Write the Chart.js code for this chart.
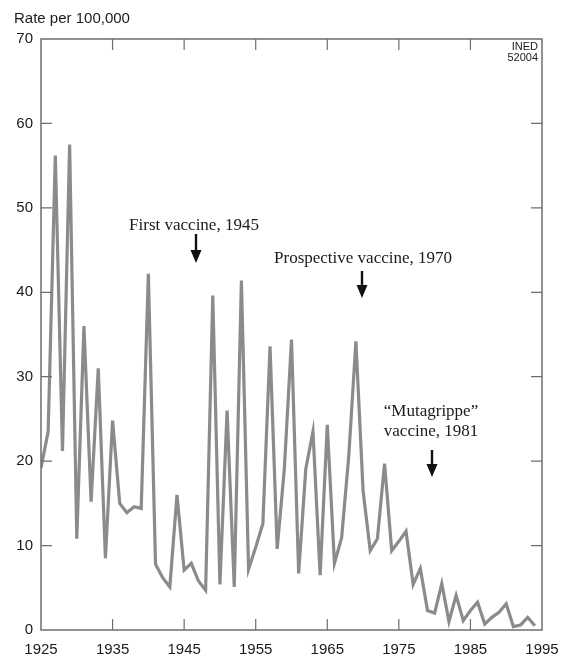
<!DOCTYPE html>
<html>
<head>
<meta charset="utf-8">
<script src="https://cdn.jsdelivr.net/npm/chart.js@4.4.1/dist/chart.umd.min.js"></script>
<style>
  html, body { margin: 0; padding: 0; background: #fff; }
  #c { display: block; }
</style>
</head>
<body>
<canvas id="c" width="564" height="658"></canvas>
<script>
// ---- data ----
const years = [
  1925, 1926, 1927, 1928, 1929, 1930, 1931, 1932, 1933, 1934,
  1935, 1936, 1937, 1938, 1939, 1940, 1941, 1942, 1943, 1944,
  1945, 1946, 1947, 1948, 1949, 1950, 1951, 1952, 1953, 1954,
  1955, 1956, 1957, 1958, 1959, 1960, 1961, 1962, 1963, 1964,
  1965, 1966, 1967, 1968, 1969, 1970, 1971, 1972, 1973, 1974,
  1975, 1976, 1977, 1978, 1979, 1980, 1981, 1982, 1983, 1984,
  1985, 1986, 1987, 1988, 1989, 1990, 1991, 1992, 1993, 1994
];
const rates = [
  19.2, 23.5, 56.2, 21.2, 57.5, 10.8, 36.0, 15.2, 31.0, 8.5,
  24.8, 15.0, 13.9, 14.6, 14.4, 42.2, 7.8, 6.2, 5.1, 16.0,
  7.1, 7.9, 5.8, 4.7, 39.6, 5.4, 26.0, 5.1, 41.4, 7.2,
  9.8, 12.6, 33.6, 9.6, 19.1, 34.4, 6.7, 19.1, 23.5, 6.5,
  24.3, 7.9, 10.9, 20.6, 34.2, 16.5, 9.4, 10.8, 19.7, 9.4,
  10.5, 11.7, 5.4, 7.3, 2.3, 2.0, 5.5, 1.0, 4.1, 1.1,
  2.3, 3.3, 0.7, 1.5, 2.1, 3.1, 0.4, 0.6, 1.5, 0.5
];
const xTickLabels = ['1925', '1935', '1945', '1955', '1965', '1975', '1985', '1995'];
const yTickLabels = ['0', '10', '20', '30', '40', '50', '60', '70'];
const yAxisTitle = 'Rate per 100,000';
const sourceNote = ['INED', '52004'];
const annotations = [
  { lines: ['First vaccine, 1945'] },
  { lines: ['Prospective vaccine, 1970'] },
  { lines: ['\u201CMutagrippe\u201D', 'vaccine, 1981'] }
];

// ---- styling / layout (kept separate from data) ----
const annLayout = [
  { cx: 194, baselines: [230], ax: 196, ay0: 234, ay1: 263 },
  { cx: 363, baselines: [263], ax: 362, ay0: 271, ay1: 298 },
  { cx: 431, baselines: [416, 436], ax: 432, ay0: 450, ay1: 477 }
];
const FRAME = '#6e6e6e';
const LINE = '#8b8b8b';
const TEXT = '#1a1a1a';
const SANS = "'Liberation Sans', Arial, Helvetica, sans-serif";
const SERIF = "'Liberation Serif', 'Times New Roman', serif";

const points = years.map((y, i) => ({ x: y, y: rates[i] }));

const framePlugin = {
  id: 'framePlugin',
  afterDraw(chart) {
    const ctx = chart.ctx;
    const a = chart.chartArea;
    const xs = chart.scales.x, ys = chart.scales.y;
    ctx.save();
    // frame
    ctx.strokeStyle = FRAME;
    ctx.lineWidth = 1.5;
    ctx.strokeRect(a.left, a.top, a.right - a.left, a.bottom - a.top);
    // inward ticks
    const TL = 11;
    ctx.lineWidth = 1.2;
    ctx.beginPath();
    xs.ticks.forEach(t => {
      const px = xs.getPixelForValue(t.value);
      if (px <= a.left + 1 || px >= a.right - 1) return;
      ctx.moveTo(px, a.bottom); ctx.lineTo(px, a.bottom - TL);
      ctx.moveTo(px, a.top); ctx.lineTo(px, a.top + TL);
    });
    ys.ticks.forEach(t => {
      const py = ys.getPixelForValue(t.value);
      if (py <= a.top + 1 || py >= a.bottom - 1) return;
      ctx.moveTo(a.left, py); ctx.lineTo(a.left + TL, py);
      ctx.moveTo(a.right, py); ctx.lineTo(a.right - TL, py);
    });
    ctx.stroke();

    // axis title
    ctx.fillStyle = TEXT;
    ctx.font = '15px ' + SANS;
    ctx.textAlign = 'left';
    ctx.textBaseline = 'alphabetic';
    ctx.fillText(yAxisTitle, 14, 23);

    // source note
    ctx.font = "11px 'Liberation Sans Narrow', 'Arial Narrow', " + SANS;
    ctx.textAlign = 'right';
    ctx.fillText(sourceNote[0], a.right - 4, 50);
    ctx.fillText(sourceNote[1], a.right - 4, 61);

    // annotations
    ctx.font = '17px ' + SERIF;
    ctx.textAlign = 'center';
    annotations.forEach((an, i) => {
      const L = annLayout[i];
      ctx.fillStyle = TEXT;
      an.lines.forEach((s, j) => ctx.fillText(s, L.cx, L.baselines[j]));
      ctx.strokeStyle = '#111';
      ctx.fillStyle = '#111';
      ctx.lineWidth = 2.4;
      ctx.beginPath();
      ctx.moveTo(L.ax, L.ay0);
      ctx.lineTo(L.ax, L.ay1 - 10);
      ctx.stroke();
      ctx.beginPath();
      ctx.moveTo(L.ax - 5.5, L.ay1 - 13);
      ctx.lineTo(L.ax + 5.5, L.ay1 - 13);
      ctx.lineTo(L.ax, L.ay1);
      ctx.closePath();
      ctx.fill();
    });
    ctx.restore();
  }
};

new Chart(document.getElementById('c'), {
  type: 'line',
  data: {
    datasets: [{
      data: points,
      borderColor: LINE,
      borderWidth: 3.2,
      pointRadius: 0,
      tension: 0,
      borderJoinStyle: 'miter',
      fill: false
    }]
  },
  options: {
    responsive: false,
    devicePixelRatio: 1,
    animation: false,
    layout: { padding: { top: 39, right: 22, left: 0, bottom: 0 } },
    plugins: { legend: { display: false }, tooltip: { enabled: false }, title: { display: false } },
    scales: {
      x: {
        type: 'linear',
        min: 1925, max: 1995,
        grid: { display: false, drawTicks: false },
        border: { display: false },
        afterFit(s) { s.height = 28; s.paddingLeft = 0; s.paddingRight = 0; },
        ticks: {
          stepSize: 10,
          autoSkip: false,
          maxRotation: 0,
          padding: 11,
          color: TEXT,
          font: { family: SANS, size: 15 },
          callback: (v) => xTickLabels[Math.round((v - 1925) / 10)]
        }
      },
      y: {
        min: 0, max: 70,
        grid: { display: false, drawTicks: false },
        border: { display: false },
        afterFit(s) { s.width = 41; s.paddingTop = 0; s.paddingBottom = 0; },
        ticks: {
          stepSize: 10,
          padding: 8,
          color: TEXT,
          font: { family: SANS, size: 15 },
          callback: (v) => yTickLabels[Math.round(v / 10)]
        }
      }
    }
  },
  plugins: [framePlugin]
});
</script>
</body>
</html>
